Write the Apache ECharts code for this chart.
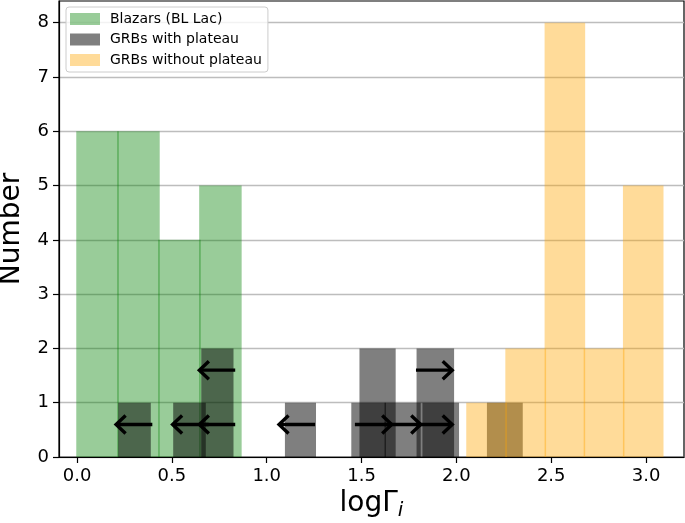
<!DOCTYPE html>
<html><head><meta charset="utf-8">
<script src="https://cdn.jsdelivr.net/npm/echarts@6/dist/echarts.min.js"></script>
<style>html,body{margin:0;padding:0;background:#fff}#c{width:685px;height:523px}</style>
</head><body><div id="c"></div>
<script>
const blazarEdges = [0.0, 0.216, 0.432, 0.648, 0.864];
const blazarCounts = [6, 6, 4, 5];
const plateauLeft = [0.221, 0.511, 0.659, 1.100, 1.450, 1.493, 1.625, 1.794, 1.825, 2.165];
const plateauRight = [0.385, 0.675, 0.821, 1.256, 1.625, 1.676, 1.808, 1.984, 2.010, 2.346];
const plateauCounts = [1, 1, 2, 1, 1, 2, 1, 2, 1, 1];
const noPlateauEdges = [2.056, 2.262, 2.469, 2.675, 2.882, 3.088];
const noPlateauCounts = [1, 2, 8, 2, 5];
const arrowTail = [0.397, 0.694, 0.834, 0.834, 1.255, 1.465, 1.620, 1.787, 1.787];
const arrowHead = [0.206, 0.504, 0.645, 0.645, 1.065, 1.659, 1.812, 1.978, 1.978];
const arrowY = [0.6, 0.6, 0.6, 1.6, 0.6, 0.6, 0.6, 0.6, 1.6];
const xTicks = [0, 0.5, 1.0, 1.5, 2.0, 2.5, 3.0];
const yTicks = [0, 1, 2, 3, 4, 5, 6, 7, 8];
const seriesNames = ['Blazars (BL Lac)', 'GRBs with plateau', 'GRBs without plateau'];

const GREEN = 'rgba(0,128,0,0.4)';
const GREY = 'rgba(0,0,0,0.5)';
const ORANGE = 'rgba(255,165,0,0.4)';
const FONT = 'DejaVu Sans';

function fromEdges(edges, counts) {
  return counts.map((c, i) => [edges[i], edges[i + 1], c]);
}
const blazarData = fromEdges(blazarEdges, blazarCounts);
const plateauData = plateauCounts.map((c, i) => [plateauLeft[i], plateauRight[i], c]);
const noPlateauData = fromEdges(noPlateauEdges, noPlateauCounts);
const arrowData = arrowY.map((y, i) => [arrowTail[i], arrowHead[i], y]);

function barRender(color) {
  return function (params, api) {
    const p0 = api.coord([api.value(0), 0]);
    const p1 = api.coord([api.value(1), api.value(2)]);
    return {
      type: 'rect',
      shape: { x: p0[0] - 0.75, y: p1[1], width: p1[0] - p0[0] + 1.5, height: p0[1] - p1[1] },
      style: { fill: color }
    };
  };
}
function arrowRender(params, api) {
  const t = api.coord([api.value(0), api.value(2)]);
  const h = api.coord([api.value(1), api.value(2)]);
  const d = h[0] > t[0] ? 1 : -1;
  return {
    type: 'group',
    children: [
      { type: 'line', shape: { x1: t[0], y1: t[1], x2: h[0] - d * 1.5, y2: h[1] },
        style: { stroke: '#000', lineWidth: 3.4 } },
      { type: 'polyline', shape: { points: [[h[0] - d * 9.5, h[1] - 9], [h[0], h[1]], [h[0] - d * 9.5, h[1] + 9]] },
        style: { stroke: '#000', lineWidth: 3.4, fill: null, lineJoin: 'miter' } }
    ]
  };
}

const chart = echarts.init(document.getElementById('c'), null, { renderer: 'canvas' });
chart.setOption({
  animation: false,
  backgroundColor: '#fff',
  grid: { left: 59, right: 1, top: 1, bottom: 66, containLabel: false, outerBoundsMode: 'none',
    show: true, borderColor: '#000', borderWidth: 1.2, backgroundColor: 'transparent' },
  legend: {
    data: seriesNames,
    orient: 'vertical',
    left: 66, top: 7,
    icon: 'rect',
    itemWidth: 30, itemHeight: 12, itemGap: 6.5,
    backgroundColor: 'rgba(255,255,255,0.8)',
    borderColor: '#cccccc', borderWidth: 1, borderRadius: 3,
    padding: [5, 6, 5, 4],
    textStyle: { fontSize: 14, fontFamily: FONT, color: '#000', padding: [0, 0, 0, 5] }
  },
  xAxis: {
    type: 'value', min: -0.095, max: 3.2,
    name: '{a|logΓ}{b|i}', nameLocation: 'middle', nameGap: 33,
    nameTextStyle: {
      rich: {
        a: { fontSize: 28, fontFamily: FONT, color: '#000', lineHeight: 28, verticalAlign: 'top' },
        b: { fontSize: 20, fontFamily: FONT, fontStyle: 'italic', color: '#000', lineHeight: 42 }
      }
    },
    axisLine: { show: true, onZero: false, lineStyle: { color: '#000', width: 1.2 } },
    axisTick: { show: true, customValues: xTicks, length: 6, lineStyle: { color: '#000', width: 1.2 } },
    axisLabel: { customValues: xTicks, fontSize: 18, fontFamily: FONT, color: '#000', margin: 10,
      formatter: v => v.toFixed(1) },
    splitLine: { show: false }
  },
  yAxis: {
    type: 'value', min: 0, max: 8.4, interval: 1,
    name: 'Number', nameLocation: 'middle', nameGap: 33,
    nameTextStyle: { fontSize: 28, fontFamily: FONT, color: '#000' },
    axisLine: { show: true, onZero: false, lineStyle: { color: '#000', width: 1.2 } },
    axisTick: { show: true, customValues: yTicks, length: 6, lineStyle: { color: '#000', width: 1.2 } },
    axisLabel: { customValues: yTicks, fontSize: 18, fontFamily: FONT, color: '#000', margin: 10 },
    splitLine: { show: true, lineStyle: { color: '#bdbdbd', width: 1.3 } }
  },
  series: [
    { type: 'custom', name: seriesNames[0], data: blazarData, encode: { x: [0, 1], y: 2 },
      renderItem: barRender(GREEN), itemStyle: { color: GREEN }, clip: true, z: 2 },
    { type: 'custom', name: seriesNames[1], data: plateauData, encode: { x: [0, 1], y: 2 },
      renderItem: barRender(GREY), itemStyle: { color: GREY }, clip: true, z: 3 },
    { type: 'custom', name: seriesNames[2], data: noPlateauData, encode: { x: [0, 1], y: 2 },
      renderItem: barRender(ORANGE), itemStyle: { color: ORANGE }, clip: true, z: 4 },
    { type: 'custom', name: 'limits', data: arrowData, encode: { x: [0, 1], y: 2 },
      renderItem: arrowRender, clip: true, z: 5, silent: true }
  ]
});
</script></body></html>
